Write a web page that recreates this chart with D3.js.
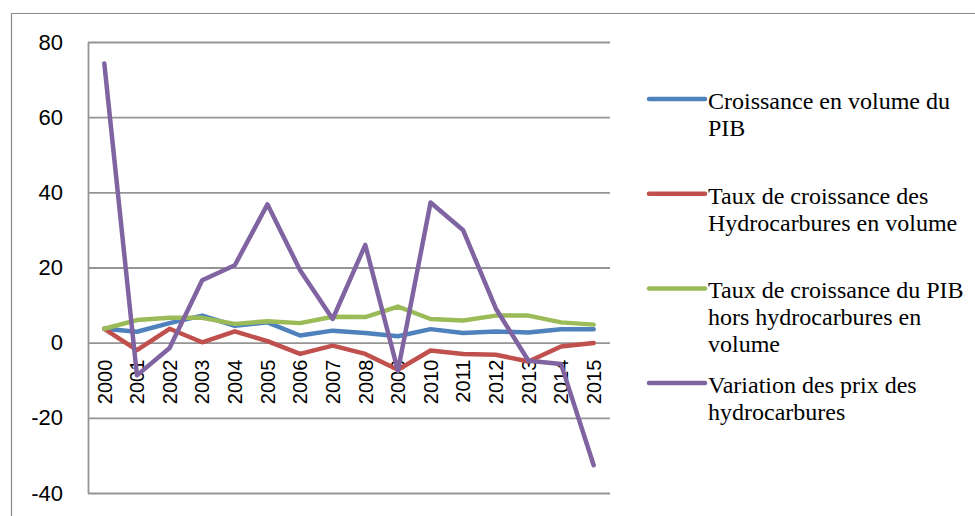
<!DOCTYPE html>
<html>
<head>
<meta charset="utf-8">
<script src="https://cdn.jsdelivr.net/npm/d3@7"></script>
<style>
  body { margin: 0; background: #fff; }
  svg { display: block; }
</style>
</head>
<body>
<svg id="svg" width="975" height="516"></svg>
<script>
// DATA
const years = ["2000", "2001", "2002", "2003", "2004", "2005", "2006", "2007",
  "2008", "2009", "2010", "2011", "2012", "2013", "2014", "2015"];
const pib = [3.7, 2.9, 5.2, 7.2, 4.5, 5.4, 1.9, 3.2, 2.6, 1.7, 3.6, 2.6, 3.0, 2.7, 3.6, 3.6];
const hydro = [3.7, -2.0, 3.7, 0.1, 3.0, 0.4, -3.0, -0.8, -3.0, -7.2, -2.1, -3.0, -3.2, -5.0, -1.0, -0.1];
const horsHydro = [3.7, 6.0, 6.6, 6.6, 5.0, 5.7, 5.2, 6.9, 6.8, 9.6, 6.3, 5.9, 7.2, 7.2, 5.4, 4.8];
const prix = [74.3, -8.7, -1.4, 16.6, 20.6, 36.8, 19.3, 6.3, 26.0, -7.5, 37.3, 29.9, 9.1, -4.8, -5.7, -32.6];
const yTicks = [-40, -20, 0, 20, 40, 60, 80];
const seriesNames = [
  ["Croissance en volume du", "PIB"],
  ["Taux de croissance des", "Hydrocarbures en volume"],
  ["Taux de croissance du PIB", "hors hydrocarbures en", "volume"],
  ["Variation des prix des", "hydrocarbures"]
];
const seriesValues = [pib, hydro, horsHydro, prix];
const seriesColors = ["#4f81bd", "#c0504d", "#9bbb59", "#8064a2"];

// LAYOUT
const plot = { left: 88, right: 610, top: 42, bottom: 493 };
const gridColor = "#959595";

const svg = d3.select("#svg");

// outer chart border (left + top only visible)
svg.append("path")
  .attr("d", "M11.5,516 V13.5 H975")
  .attr("fill", "none")
  .attr("stroke", "#8a8a8a")
  .attr("stroke-width", 1.2);

const x = d3.scaleBand().domain(years).range([plot.left, plot.right]);
const y = d3.scaleLinear().domain([-40, 80]).range([plot.bottom, plot.top]);
const cx = d => x(d) + x.bandwidth() / 2;

// y axis + gridlines
const yAxis = svg.append("g")
  .attr("transform", `translate(${plot.left},0)`)
  .call(d3.axisLeft(y)
    .tickValues(yTicks)
    .tickFormat(d => String(d)) // plain hyphen like the original
    .tickSize(-(plot.right - plot.left))
    .tickSizeOuter(0)
    .tickPadding(25));

yAxis.select(".domain")
  .attr("stroke", gridColor)
  .attr("stroke-width", 1.8);
yAxis.selectAll(".tick line")
  .attr("stroke", gridColor)
  .attr("stroke-width", 1.8);
yAxis.selectAll(".tick text")
  .attr("fill", "#000")
  .style("font", "22px 'Liberation Sans', Arial, sans-serif");

// x axis labels, rotated, just under the zero line
const xAxis = svg.append("g")
  .attr("transform", `translate(0,${y(0)})`)
  .call(d3.axisBottom(x).tickSize(0));
xAxis.select(".domain").remove();
xAxis.selectAll(".tick text")
  .attr("fill", "#000")
  .attr("transform", "rotate(-90)")
  .attr("text-anchor", "end")
  .attr("x", -17)
  .attr("y", 0)
  .attr("dy", "0.36em")
  .style("font", "20px 'Liberation Sans', Arial, sans-serif");

// lines
const line = d3.line()
  .x((d, i) => cx(years[i]))
  .y(d => y(d));

svg.append("g")
  .selectAll("path")
  .data(seriesValues)
  .join("path")
  .attr("d", line)
  .attr("fill", "none")
  .attr("stroke", (d, i) => seriesColors[i])
  .attr("stroke-width", 4.5)
  .attr("stroke-linejoin", "round")
  .attr("stroke-linecap", "round");

// legend
const legend = svg.append("g")
  .selectAll("g")
  .data(seriesNames)
  .join("g")
  .attr("transform", (d, i) => `translate(649,${99 + i * 94.7})`);

legend.append("line")
  .attr("x1", 0)
  .attr("x2", 56)
  .attr("stroke", (d, i) => seriesColors[i])
  .attr("stroke-width", 4.5)
  .attr("stroke-linecap", "round");

legend.append("text")
  .attr("x", 59)
  .attr("y", 10)
  .attr("fill", "#000")
  .style("font", "24px 'Liberation Serif', 'Times New Roman', serif")
  .selectAll("tspan")
  .data(d => d)
  .join("tspan")
  .attr("x", 59)
  .attr("dy", (d, i) => i ? 27 : 0)
  .text(d => d);
</script>
</body>
</html>
